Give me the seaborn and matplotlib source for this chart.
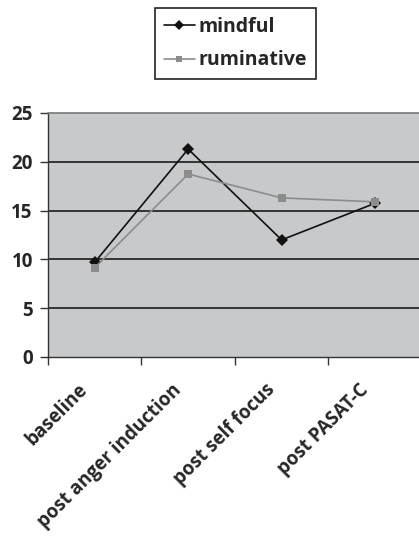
import pandas as pd
import matplotlib
matplotlib.use('Agg')
import matplotlib.pyplot as plt
import matplotlib.transforms as mtransforms
import seaborn as sns

# values
stages = ['baseline', 'post anger induction', 'post self focus', 'post PASAT-C']
mindful = [9.7, 21.3, 12.0, 15.75]
ruminative = [9.15, 18.75, 16.3, 15.9]
groups = ['mindful', 'ruminative']

df = pd.DataFrame({
    'stage': stages * 2,
    'pos': list(range(len(stages))) * 2,
    'score': mindful + ruminative,
    'group': ['mindful'] * len(stages) + ['ruminative'] * len(stages),
})

sns.set_style('white')
plt.rcParams['font.family'] = ['Open Sans', 'DejaVu Sans']
plt.rcParams['font.weight'] = 'bold'

fig = plt.figure(figsize=(4.19, 5.37), dpi=100)
ax = fig.add_axes([48 / 419, 180 / 537, 1 - 48 / 419, 244 / 537])
ax.set_facecolor('#c8c9cb')

sns.lineplot(data=df, x='pos', y='score', hue='group', style='group',
             palette={'mindful': '#111111', 'ruminative': '#8c8c8c'},
             markers={'mindful': 'D', 'ruminative': 's'},
             dashes=False, markersize=6, linewidth=1.2, sort=False,
             markeredgewidth=0, ax=ax, legend=False)

for y in [5, 10, 15, 20]:
    ax.axhline(y, color='#1a1a1a', linewidth=1.2, zorder=0.5)

ax.set_ylim(0, 25)
ax.set_xlim(-0.5, 3.47)
ax.set_yticks([0, 5, 10, 15, 20, 25])
ax.set_yticklabels(['0', '5', '10', '15', '20', '25'], fontsize=13.5, fontweight='bold')
ax.set_xticks(range(len(stages)))
ax.set_xticklabels(stages, rotation=45, ha='right', rotation_mode='anchor',
                   fontsize=13.5, fontweight='bold')
ax.set_xticks([-0.5, 0.5, 1.5, 2.5], minor=True)
ax.tick_params(axis='x', which='major', length=0, pad=10)
ax.tick_params(axis='x', which='minor', length=6, width=1, color='#333333', direction='out', bottom=True)
ax.tick_params(axis='y', length=6, width=1, color='#333333', direction='out', left=True, pad=5)
ax.set_xlabel('')
ax.set_ylabel('')

# nudge rotated labels like the original
shift = mtransforms.ScaledTranslation(-17 / 100, -9 / 100, fig.dpi_scale_trans)
for lab in ax.get_xticklabels():
    lab.set_transform(lab.get_transform() + shift)

for side in ['left', 'bottom']:
    ax.spines[side].set_color('#333333')
    ax.spines[side].set_linewidth(1)
ax.spines['top'].set_color('#777777')
ax.spines['top'].set_linewidth(1.2)
ax.spines['right'].set_visible(False)

handles = [
    plt.Line2D([], [], color='#111111', marker='D', markersize=5, markeredgewidth=0, linewidth=1.2),
    plt.Line2D([], [], color='#8c8c8c', marker='s', markersize=5, markeredgewidth=0, linewidth=1.2),
]
leg = fig.legend(handles, groups, loc='upper left', bbox_to_anchor=(155 / 419, 1 - 8 / 537),
                 frameon=True, fancybox=False, edgecolor='#222222', framealpha=1,
                 handlelength=1.6, handletextpad=0.2, borderpad=0.45, labelspacing=0.7,
                 borderaxespad=0, prop={'weight': 'bold', 'size': 14})
leg.get_frame().set_linewidth(1.2)

fig.savefig('out.png', dpi=100)
